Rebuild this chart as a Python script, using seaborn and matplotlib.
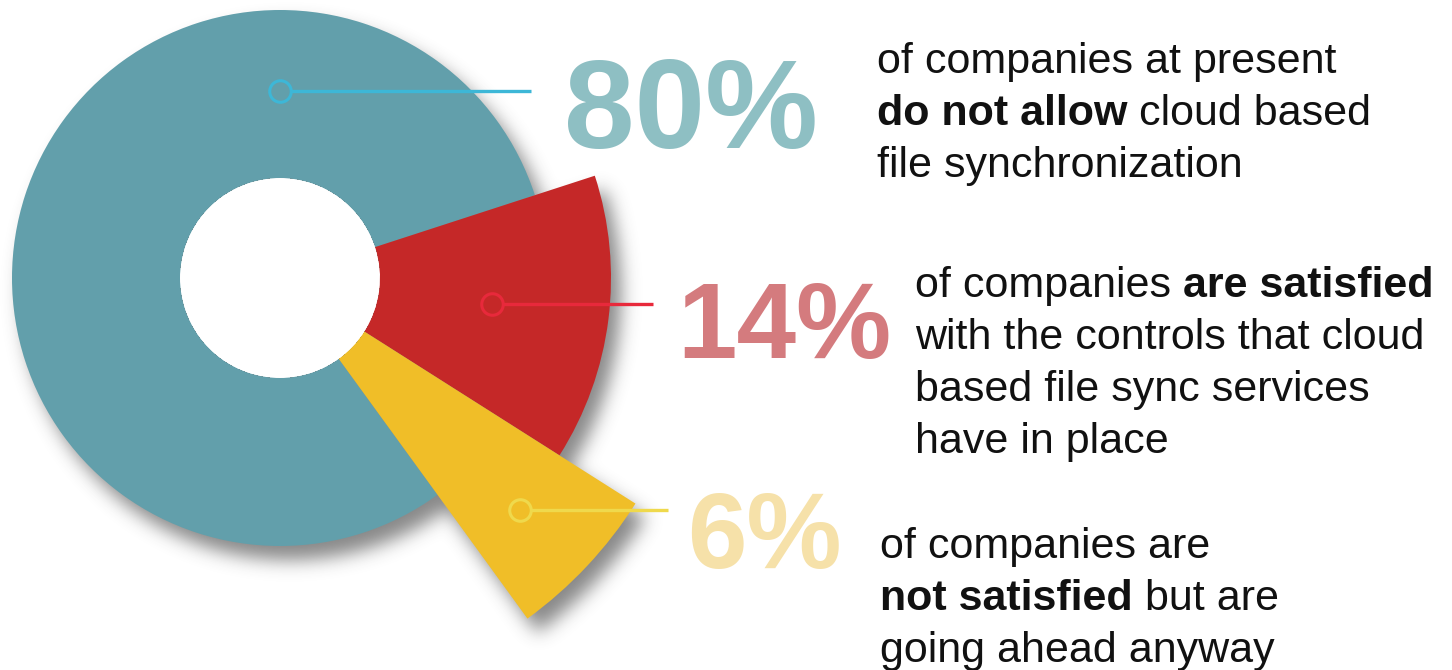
import numpy as np
import matplotlib
matplotlib.use("Agg")
import matplotlib.pyplot as plt
import seaborn as sns

# ---------------- data ----------------
categories = ["do not allow", "are satisfied", "not satisfied"]
shares = [80, 14, 6]
pct_labels = ["80%", "14%", "6%"]

block1 = [[("of companies at present", "normal")],
          [("do not allow", "bold"), ("cloud based", "normal")],
          [("file synchronization", "normal")]]
block2 = [[("of companies", "normal"), ("are satisfied", "bold")],
          [("with the controls that cloud", "normal")],
          [("based file sync services", "normal")],
          [("have in place", "normal")]]
block3 = [[("of companies are", "normal")],
          [("not satisfied", "bold"), ("but are", "normal")],
          [("going ahead anyway", "normal")]]
text_blocks = [block1, block2, block3]

# ---------------- style / layout ----------------
W, H = 1452, 670
CX, CY_PX = 280, 278
CY = H - CY_PX
INNER = 100
outer_r = [268, 331, 421]
start_angle = 306
slice_colors = ["#629fab", "#c52828", "#f0be28"]
line_colors = ["#3db7d7", "#e8293b", "#efd94c"]
pct_colors = ["#8ebfc3", "#d47b7e", "#f6e1a9"]
marker_polar = [(90, 187), (-7, 214), (-44, 334)]   # angle, radius
line_end_x = [531, 653, 668]
pct_pos = [(564, 148, 127), (677, 358, 107), (687, 568, 107)]  # x, baseline, px size
block_pos = [(877, [73, 125, 177]), (915, [297, 349, 401, 453]), (880, [558, 610, 662])]
BODY_PX = 43

sns.set_theme(style="white")
plt.rcParams["font.family"] = ["Liberation Sans", "DejaVu Sans"]

fig = plt.figure(figsize=(W / 100, H / 100), dpi=100)
fig.patch.set_facecolor("white")
ax = fig.add_axes([0, 0, 1, 1])

# ---------------- soft drop shadow ----------------
yy, xx = np.mgrid[0:H, 0:W].astype(float) + 0.5
sdx, sdy = 10, 14
rx = xx - (CX + sdx)
ry = -(yy - (CY_PX + sdy))
rr = np.hypot(rx, ry)
th = np.degrees(np.arctan2(ry, rx))
mask = np.zeros((H, W))
cum = start_angle
for share, R in zip(shares, outer_r):
    sweep = 360 * share / sum(shares)
    d = np.mod(cum - th, 360)
    mask[(rr <= R) & (d <= sweep)] = 1.0
    cum -= sweep
sig = 9
k = np.arange(-3 * sig, 3 * sig + 1)
g = np.exp(-k ** 2 / (2 * sig ** 2))
g /= g.sum()
blur = np.apply_along_axis(lambda v: np.convolve(v, g, mode="same"), 1, mask)
blur = np.apply_along_axis(lambda v: np.convolve(v, g, mode="same"), 0, blur)
hole = np.hypot(xx - CX, yy - CY_PX) < INNER
blur[hole] = 0
rgba = np.zeros((H, W, 4))
rgba[..., :3] = 0.25
rgba[..., 3] = np.clip(blur * 0.62, 0, 1)
ax.imshow(rgba, extent=(0, W, 0, H), origin="upper", zorder=0, interpolation="bilinear")

# ---------------- slices ----------------
for i, R in enumerate(outer_r):
    wedges, _ = ax.pie(shares, radius=R, colors=slice_colors, startangle=start_angle,
                       counterclock=False, center=(CX, CY), frame=False,
                       wedgeprops=dict(width=R - INNER, linewidth=0, edgecolor="none"))
    for j, w in enumerate(wedges):
        w.set_visible(j == i)
        w.set_zorder(2 + i)

ax.set_xlim(0, W)
ax.set_ylim(0, H)
ax.set_aspect("equal")
ax.axis("off")

# ---------------- leaders ----------------
for i in range(3):
    ang, rad = marker_polar[i]
    mx = CX + rad * np.cos(np.radians(ang))
    my = CY + rad * np.sin(np.radians(ang))
    ax.plot([mx + 10, line_end_x[i]], [my, my], color=line_colors[i], lw=2.4,
            solid_capstyle="butt", zorder=10)
    ax.plot([mx], [my], "o", ms=15.5, mfc=slice_colors[i], mec=line_colors[i],
            mew=2.2, zorder=11)

# ---------------- percentages ----------------
for lab, col, (px, py, size) in zip(pct_labels, pct_colors, pct_pos):
    ax.text(px, H - py, lab, fontsize=size * 0.72, fontweight="bold", color=col,
            ha="left", va="baseline", zorder=12)

# ---------------- body text ----------------
fig.canvas.draw()
renderer = fig.canvas.get_renderer()
space = 0.278 * BODY_PX
for block, (bx, baselines) in zip(text_blocks, block_pos):
    for runs, by in zip(block, baselines):
        x = bx
        for s, wgt in runs:
            t = ax.text(x, H - by, s, fontsize=BODY_PX * 0.72, fontweight=wgt,
                        color="#111111", ha="left", va="baseline", zorder=12)
            bb = t.get_window_extent(renderer)
            x = ax.transData.inverted().transform((bb.x1, 0))[0] + space

fig.savefig("out.png", dpi=100, facecolor="white")
